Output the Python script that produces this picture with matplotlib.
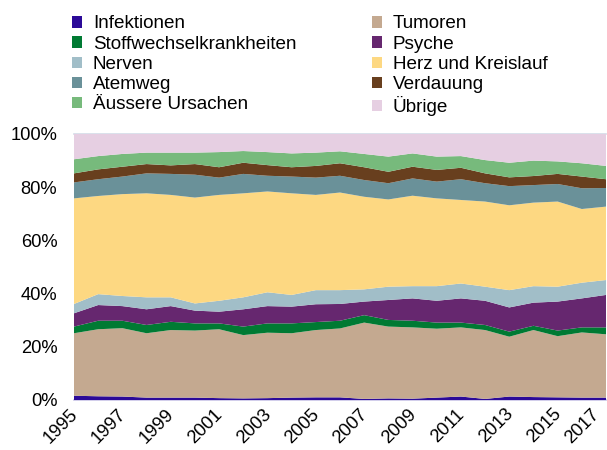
import matplotlib
matplotlib.use("Agg")
import matplotlib.pyplot as plt
import matplotlib.transforms as mtransforms
from matplotlib.patches import Patch

plt.rcParams['font.family'] = ['Liberation Sans', 'DejaVu Sans']

years = list(range(1995, 2018))

infektionen = [1.6, 1.4, 1.3, 0.9, 0.9, 0.9, 0.7, 0.6, 0.7, 0.9, 1.0, 1.0, 0.4, 0.6, 0.5, 0.9, 1.3, 0.4, 1.3, 1.1, 1.0, 0.9, 0.9]
tumoren = [23.5, 25.2, 25.7, 24.2, 25.4, 25.2, 25.9, 23.8, 24.6, 24.2, 25.3, 25.9, 28.7, 27.0, 26.8, 25.9, 26.0, 25.9, 22.5, 25.2, 23.0, 24.5, 23.8]
stoffwechsel = [2.5, 3.2, 2.8, 3.1, 3.1, 2.7, 2.2, 3.2, 3.5, 3.7, 3.0, 2.9, 2.8, 2.5, 2.5, 2.3, 1.8, 1.9, 1.9, 1.6, 2.1, 1.9, 2.6]
psyche = [5.0, 5.9, 5.5, 5.9, 5.9, 4.8, 4.4, 6.5, 6.5, 6.3, 6.7, 6.3, 5.1, 7.5, 8.4, 8.2, 9.1, 9.1, 9.1, 8.7, 10.9, 10.9, 12.2]
nerven = [3.5, 4.1, 3.8, 4.5, 3.3, 2.7, 4.1, 4.5, 5.2, 4.4, 5.3, 5.2, 4.6, 5.0, 4.6, 5.5, 5.6, 5.3, 6.5, 6.2, 5.6, 5.9, 5.6]
herz = [39.7, 36.9, 38.3, 39.1, 38.5, 39.8, 39.8, 39.1, 37.9, 38.2, 35.8, 36.7, 34.8, 32.8, 34.0, 33.0, 31.4, 32.0, 31.9, 31.4, 32.0, 27.7, 27.6]
atemweg = [6.0, 6.3, 6.6, 7.5, 7.9, 8.6, 6.5, 7.3, 5.9, 6.3, 6.5, 6.3, 6.3, 6.1, 6.5, 6.3, 7.8, 6.9, 7.2, 6.6, 6.6, 7.8, 7.0]
verdauung = [3.4, 3.7, 3.7, 3.5, 3.2, 4.0, 3.9, 4.2, 4.0, 3.5, 4.4, 4.7, 4.8, 4.3, 4.4, 4.4, 4.3, 3.7, 3.3, 3.4, 3.8, 4.4, 3.3]
aeussere = [5.3, 5.0, 4.8, 4.3, 4.8, 4.3, 5.7, 4.4, 4.9, 5.2, 5.0, 4.5, 5.0, 5.7, 5.0, 5.0, 4.4, 5.0, 5.5, 5.8, 4.7, 5.0, 5.0]
uebrige = [9.5, 8.3, 7.5, 7.0, 7.0, 7.0, 6.8, 6.4, 6.8, 7.3, 7.0, 6.5, 7.5, 8.5, 7.3, 8.5, 8.3, 9.8, 10.8, 10.0, 10.3, 11.0, 12.0]

labels = ["Infektionen", "Tumoren", "Stoffwechselkrankheiten", "Psyche", "Nerven",
          "Herz und Kreislauf", "Atemweg", "Verdauung", "Äussere Ursachen", "Übrige"]
colors = ["#2B0A98", "#C4A990", "#007A33", "#66276F", "#A1BEC8",
          "#FDD882", "#6A9199", "#683F1E", "#77BA7C", "#E6CFE2"]
series = [infektionen, tumoren, stoffwechsel, psyche, nerven,
          herz, atemweg, verdauung, aeussere, uebrige]

fig = plt.figure(figsize=(6.07, 4.5), dpi=100)
ax = fig.add_axes([74/607, 1-400/450, 532/607, 266/450])

ax.stackplot(years, *series, colors=colors, labels=labels, linewidth=0)

ax.set_xlim(1995, 2017)
ax.set_ylim(0, 100)
ax.set_yticks([0, 20, 40, 60, 80, 100])
ax.set_yticklabels([f"{v}%" for v in [0, 20, 40, 60, 80, 100]], fontsize=13.2)
ax.set_xticks(years[::2])
ax.set_xticklabels([str(y) for y in years[::2]], fontsize=13.2, rotation=45,
                   ha='right', va='top', rotation_mode='anchor')
ax.tick_params(axis='y', length=0, pad=12)
ax.tick_params(axis='x', length=0, pad=4)
xlabs = ax.get_xticklabels()
for k, lab in enumerate(xlabs):
    dx = -5 if k < len(xlabs) - 1 else -15
    offset = mtransforms.ScaledTranslation(dx/100, 0, fig.dpi_scale_trans)
    lab.set_transform(lab.get_transform() + offset)
for s in ax.spines.values():
    s.set_visible(False)
ax.axhline(100, color="#D3DCE8", lw=1.2, zorder=0.5, clip_on=False)
ax.axhline(0, color="#C9C5E8", lw=1.2, zorder=0.5, clip_on=False)

order = [0, 2, 4, 6, 8, 1, 3, 5, 7, 9]
handles = [Patch(facecolor=colors[i], edgecolor='none') for i in order]
leg = fig.legend(handles, [labels[i] for i in order], ncol=2, frameon=False,
                 loc='upper left', bbox_to_anchor=(72/607, 1-15.5/450),
                 fontsize=13.6, handlelength=0.55, handleheight=0.55,
                 handletextpad=0.55, labelspacing=0.17, columnspacing=4.0,
                 borderaxespad=0, borderpad=0)

fig.savefig("out.png", dpi=100)
